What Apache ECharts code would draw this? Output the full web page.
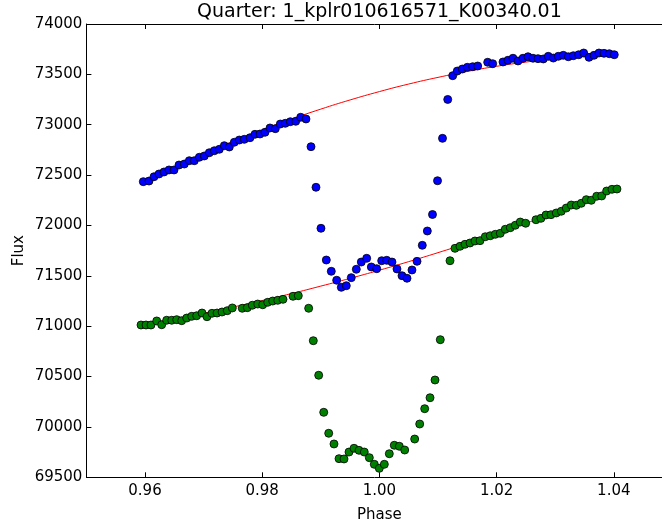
<!DOCTYPE html>
<html>
<head>
<meta charset="utf-8">
<script src="https://cdn.jsdelivr.net/npm/echarts@6/dist/echarts.min.js"></script>
<style>
  html, body { margin: 0; padding: 0; background: #fff; }
  #chart { width: 662px; height: 523px; }
</style>
</head>
<body>
<div id="chart"></div>
<script>
// Folded light curve of KOI 340.01, quarter 1: two flux sets with their trend fits.
const titleText = 'Quarter: 1_kplr010616571_K00340.01';

const bluePhase = [0.95971,0.96068,0.96154,0.96239,0.96324,0.96410,0.96495,0.96580,0.96671,0.96756,
  0.96841,0.96927,0.97012,0.97097,0.97183,0.97268,0.97353,0.97439,0.97524,0.97609,
  0.97695,0.97792,0.97877,0.97962,0.98048,0.98133,0.98224,0.98309,0.98394,0.98480,
  0.98572,0.98657,0.98747,0.98833,0.98918,0.99003,0.99094,0.99179,0.99271,0.99350,
  0.99435,0.99520,0.99606,0.99691,0.99783,0.99862,0.99954,1.00039,1.00125,1.00215,
  1.00300,1.00386,1.00471,1.00556,1.00642,1.00732,1.00818,1.00906,1.00992,1.01077,
  1.01166,1.01251,1.01329,1.01415,1.01500,1.01592,1.01677,1.01848,1.01933,1.02109,
  1.02194,1.02280,1.02365,1.02451,1.02536,1.02621,1.02707,1.02797,1.02882,1.02968,
  1.03053,1.03138,1.03224,1.03309,1.03401,1.03486,1.03577,1.03662,1.03747,1.03833,1.03923,1.04008];
const blueFlux = [72435,72441,72484,72511,72531,72551,72551,72600,72610,72643,
  72643,72677,72690,72722,72742,72756,72792,72779,72826,72848,
  72855,72871,72905,72908,72925,72968,72961,73007,73014,73030,
  73034,73074,73057,72782,72379,71972,71657,71545,71456,71386,
  71402,71482,71565,71637,71674,71588,71571,71650,71654,71637,
  71568,71501,71476,71558,71644,71803,71945,72109,72444,72865,
  73251,73487,73533,73553,73570,73576,73583,73620,73606,73623,
  73640,73660,73633,73660,73675,73660,73656,73653,73679,73662,
  73679,73689,73675,73685,73695,73712,73669,73689,73712,73709,73705,73695];

const greenPhase = [0.95932,0.96017,0.96102,0.96200,0.96285,0.96370,0.96456,0.96541,0.96626,0.96712,
  0.96797,0.96882,0.96973,0.97058,0.97143,0.97229,0.97314,0.97404,0.97490,0.97660,
  0.97746,0.97831,0.97923,0.98009,0.98094,0.98179,0.98265,0.98355,0.98526,0.98616,
  0.98793,0.98872,0.98964,0.99050,0.99135,0.99225,0.99311,0.99396,0.99481,0.99567,
  0.99652,0.99742,0.99828,0.99913,0.99998,1.00084,1.00169,1.00254,1.00340,1.00432,
  1.00602,1.00688,1.00773,1.00864,1.00949,1.01039,1.01205,1.01290,1.01375,1.01461,
  1.01546,1.01631,1.01717,1.01807,1.01892,1.01978,1.02063,1.02148,1.02234,1.02319,
  1.02404,1.02496,1.02672,1.02757,1.02843,1.02928,1.03018,1.03104,1.03189,1.03274,
  1.03360,1.03445,1.03531,1.03616,1.03708,1.03793,1.03878,1.03969,1.04054];
const greenFlux = [71012,71012,71012,71052,71015,71059,71059,71065,71055,71081,
  71098,71104,71131,71094,71128,71131,71141,71154,71181,71178,
  71184,71208,71220,71213,71237,71250,71257,71267,71297,71303,
  71178,70856,70513,70145,69937,69831,69685,69682,69751,69788,
  69768,69751,69695,69629,69589,69629,69734,69818,69808,69771,
  69880,70029,70181,70290,70466,70866,71650,71773,71793,71813,
  71826,71846,71849,71888,71898,71912,71922,71962,71978,72002,
  72034,72022,72057,72071,72104,72107,72124,72141,72173,72203,
  72200,72220,72256,72250,72290,72293,72342,72359,72362];

// trend fits sampled along phase
const fitPhase = [0.960,0.965,0.970,0.975,0.980,0.985,0.990,0.995,1.000,
  1.005,1.010,1.015,1.020,1.025,1.030,1.035,1.040];
const upperFit = [72441,72580,72711,72834,72949,73056,73155,73246,73329,
  73404,73470,73529,73580,73622,73657,73684,73702];
const lowerFit = [71019,71072,71129,71190,71255,71324,71398,71475,71556,
  71641,71730,71823,71920,72022,72127,72236,72349];

const xTickLabels = ['0.96', '0.98', '1.00', '1.02', '1.04'];

const FONT = 'DejaVu Sans';
const pair = (xs, ys) => xs.slice(0, Math.min(xs.length, ys.length)).map((x, i) => [x, ys[i]]);

const axisLine = { show: true, onZero: false, lineStyle: { color: '#000', width: 1 } };
const axisTick = { show: true, inside: true, length: 5, lineStyle: { color: '#000', width: 1 } };

const chart = echarts.init(document.getElementById('chart'), null, { renderer: 'canvas' });

chart.setOption({
  animation: false,
  backgroundColor: '#fff',
  // the frame runs on past the right edge of the canvas (up to phase 1.05)
  grid: { left: 86.4, top: 24, right: -10.4, bottom: 45.7, outerBoundsMode: 'none', containLabel: false },
  graphic: [{
    type: 'text',
    x: 379.4, y: 22,
    style: {
      text: titleText,
      font: '19px "' + FONT + '"',
      fill: '#000',
      textAlign: 'center',
      textVerticalAlign: 'bottom'
    }
  }],
  xAxis: [{
    type: 'value',
    min: 0.95, max: 1.05, splitNumber: 5,
    axisLine, axisTick,
    splitLine: { show: false },
    axisLabel: {
      showMinLabel: false, showMaxLabel: false,
      color: '#000', fontFamily: FONT, fontSize: 15, margin: 6,
      formatter: v => { const s = v.toFixed(2); return xTickLabels.includes(s) ? s : ''; }
    },
    name: 'Phase', nameLocation: 'middle', nameGap: 30,
    nameTextStyle: { color: '#000', fontFamily: FONT, fontSize: 15 }
  }, {
    type: 'value', position: 'top',
    min: 0.95, max: 1.05, splitNumber: 5,
    axisLine, axisTick,
    splitLine: { show: false },
    axisLabel: { show: false }
  }],
  yAxis: [{
    type: 'value',
    min: 69500, max: 74000, interval: 500,
    axisLine, axisTick,
    splitLine: { show: false },
    axisLabel: {
      color: '#000', fontFamily: FONT, fontSize: 15, margin: 4,
      formatter: v => String(v)
    },
    name: 'Flux', nameLocation: 'middle', nameGap: 60, nameRotate: 90,
    nameMoveOverlap: false,
    nameTextStyle: { color: '#000', fontFamily: FONT, fontSize: 15 }
  }],
  series: [
    {
      type: 'line', data: pair(fitPhase, upperFit), smooth: true,
      showSymbol: false, z: 1, silent: true,
      lineStyle: { color: '#ff0000', width: 1 }
    },
    {
      type: 'line', data: pair(fitPhase, lowerFit), smooth: true,
      showSymbol: false, z: 1, silent: true,
      lineStyle: { color: '#ff0000', width: 1 }
    },
    {
      type: 'scatter', data: pair(bluePhase, blueFlux), symbolSize: 8, z: 3,
      itemStyle: { color: '#0000ff', borderColor: '#000', borderWidth: 0.8, opacity: 1 }
    },
    {
      type: 'scatter', data: pair(greenPhase, greenFlux), symbolSize: 8, z: 3,
      itemStyle: { color: '#008000', borderColor: '#000', borderWidth: 0.8, opacity: 1 }
    }
  ]
});
</script>
</body>
</html>
